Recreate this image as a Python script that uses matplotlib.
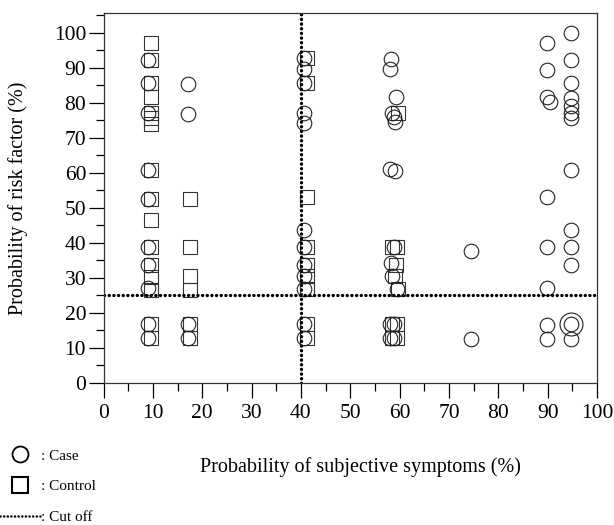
import matplotlib
matplotlib.use("Agg")
from matplotlib import pyplot as plt
from matplotlib.lines import Line2D
from matplotlib.ticker import MultipleLocator

plt.rcParams["font.family"] = ["Liberation Serif", "DejaVu Serif"]

# Case subjects (circles): probability of symptoms vs probability of risk factor
case_x = [9.1, 9.1, 9.1, 17.1, 17.1, 9.1, 9.1, 9.1, 9.1, 9.1, 9.1, 9.1, 17.1, 17.1,
          40.7, 40.7, 40.7, 40.7, 40.7, 40.7, 40.7, 40.7, 40.7, 40.7, 40.7, 40.7,
          58.3, 58.1, 59.3, 58.5, 58.9, 59.1, 58.1, 59.1,
          58.9, 58.3, 58.5, 59.5, 58.1, 58.9, 58.1, 58.9,
          74.4, 74.4,
          89.9, 89.9, 89.9, 90.4, 89.9, 89.9, 89.9, 89.9, 89.9,
          94.7, 94.7, 94.7, 94.7, 94.7, 94.7, 94.7, 94.7, 94.7, 94.7, 94.7, 94.7, 94.7]
case_y = [92.3, 85.6, 77.1, 85.4, 76.9, 60.9, 52.6, 38.9, 33.7, 27.1, 16.9, 12.9, 16.9, 12.9,
          92.8, 89.8, 85.7, 77.0, 74.3, 43.7, 38.9, 33.7, 30.6, 26.9, 16.9, 12.9,
          92.5, 89.7, 81.7, 77.1, 76.0, 74.6, 61.0, 60.5,
          38.9, 34.3, 30.6, 26.9, 16.9, 16.9, 12.9, 12.9,
          37.7, 12.6,
          97.1, 89.4, 81.7, 80.3, 53.1, 38.9, 27.1, 16.6, 12.6,
          100.0, 92.3, 85.7, 81.4, 79.1, 77.1, 75.7, 60.9, 43.7, 38.9, 33.7, 16.9, 12.6]

# Larger circle drawn at one case position
case_big_x = [94.7]
case_big_y = [16.9]

# Control subjects (squares)
ctrl_x = [9.6, 9.6, 9.6, 9.6, 9.6, 9.6, 9.6, 9.6, 9.6, 9.6, 9.6, 9.6, 9.6, 9.6, 9.6, 9.6,
          17.6, 17.6, 17.6, 17.6, 17.6, 17.6,
          41.2, 41.2, 41.2, 41.2, 41.2, 41.2, 41.2, 41.2, 41.2,
          59.7, 58.5, 59.5, 59.3, 59.1, 59.7, 58.5, 59.5, 58.5, 59.5]
ctrl_y = [97.0, 92.3, 85.6, 81.8, 77.1, 75.7, 74.0, 60.9, 52.6, 46.6, 38.9, 33.7, 30.3, 26.6,
          16.9, 12.9,
          52.5, 38.9, 30.6, 26.6, 16.9, 12.9,
          92.8, 85.7, 53.0, 38.9, 33.7, 30.6, 26.9, 16.9, 12.9,
          77.0, 38.9, 38.9, 33.7, 30.6, 26.9, 16.9, 16.9, 12.9, 12.9]

cutoff_x = 40
cutoff_y = 25

fig = plt.figure(figsize=(6.14, 5.25), dpi=100)
ax = fig.add_axes([0.1686, 0.2705, 0.8037, 0.7047])

ax.plot(ctrl_x, ctrl_y, linestyle="none", marker="s", markersize=10.3,
        markerfacecolor="none", markeredgecolor="#333333", markeredgewidth=0.8)
ax.plot(case_x, case_y, linestyle="none", marker="o", markersize=10.5,
        markerfacecolor="none", markeredgecolor="#222222", markeredgewidth=0.8)
ax.plot(case_big_x, case_big_y, linestyle="none", marker="o", markersize=16.5,
        markerfacecolor="none", markeredgecolor="#222222", markeredgewidth=0.8)

# Cut-off lines
ax.axvline(cutoff_x, color="black", linewidth=2.4, linestyle=(0, (0.05, 1.35)),
           dash_capstyle="round")
ax.axhline(cutoff_y, color="black", linewidth=2.4, linestyle=(0, (0.05, 1.35)),
           dash_capstyle="round")

ax.set_xlim(0, 100)
ax.set_ylim(0, 105.7)
ax.xaxis.set_major_locator(MultipleLocator(10))
ax.xaxis.set_minor_locator(MultipleLocator(5))
ax.yaxis.set_major_locator(MultipleLocator(10))
ax.yaxis.set_minor_locator(MultipleLocator(5))
ax.tick_params(which="major", direction="out", length=11, width=0.9, labelsize=15.5,
               pad=4)
ax.tick_params(axis="y", which="major", pad=1.5)
ax.tick_params(which="minor", direction="out", length=6, width=0.9)
for s in ax.spines.values():
    s.set_linewidth(0.9)
    s.set_color("#333333")

ax.set_xlabel("Probability of subjective symptoms (%)", fontsize=14.5)
ax.xaxis.set_label_coords(0.52, -0.2)
ax.set_ylabel("Probability of risk factor (%)", fontsize=14.5)
ax.yaxis.set_label_coords(-0.153, 0.5)

handles = [
    Line2D([], [], linestyle="none", marker="o", markersize=11.5,
           markerfacecolor="none", markeredgecolor="black", markeredgewidth=1.3),
    Line2D([], [], linestyle="none", marker="s", markersize=11.5,
           markerfacecolor="none", markeredgecolor="black", markeredgewidth=1.5),
    Line2D([], [], color="black", linewidth=1.8, linestyle=(0, (0.05, 1.4)),
           dash_capstyle="round"),
]
fig.legend(handles, [": Case", ": Control", ": Cut off"], loc="upper left",
           bbox_to_anchor=(-0.002, 0.148), frameon=False, fontsize=11,
           handlelength=2.6, handletextpad=0.05, labelspacing=1.12, borderaxespad=0,
           borderpad=0.1)

fig.savefig("out.png", dpi=100)
